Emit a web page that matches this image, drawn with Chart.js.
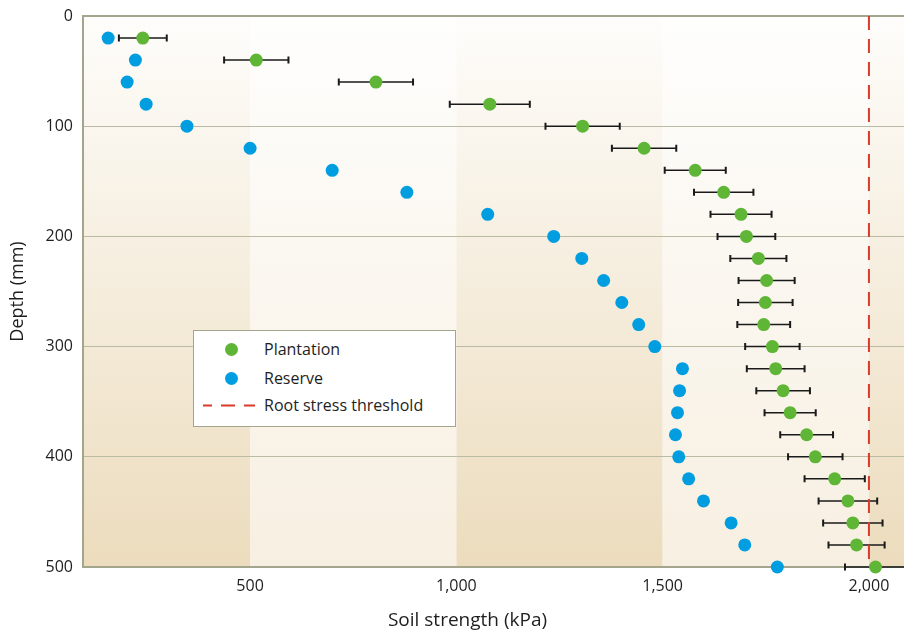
<!DOCTYPE html>
<html>
<head>
<meta charset="utf-8">
<script src="https://cdn.jsdelivr.net/npm/chart.js@4.4.1/dist/chart.umd.min.js"></script>
<style>
  html, body { margin: 0; padding: 0; background: #ffffff; }
  #wrap { position: relative; width: 904px; height: 631px; }
  #c { position: absolute; left: 0; top: 0; }
  #legend {
    position: absolute; left: 193px; top: 330px; width: 261px; height: 95px;
    background: #ffffff; border: 1px solid #a3a68c;
    font-family: "Open Sans", sans-serif; font-size: 16px; color: #1e1e1e;
  }
  .row { position: absolute; left: 0; height: 20px; line-height: 20px; }
  .dot { position: absolute; width: 13px; height: 13px; border-radius: 50%; top: 3.5px; left: 31px; }
  .lbl { position: absolute; left: 70px; top: 0; white-space: nowrap; }
  .dash { position: absolute; left: 9px; top: 9px; }
</style>
</head>
<body>
<div id="wrap">
  <canvas id="c" width="904" height="631"></canvas>
  <div id="legend">
    <div class="row" style="top:8px"><span class="dot" style="background:#5fb535"></span><span class="lbl">Plantation</span></div>
    <div class="row" style="top:37px"><span class="dot" style="background:#009ee0"></span><span class="lbl">Reserve</span></div>
    <div class="row" style="top:64px">
      <svg class="dash" width="52" height="3"><line x1="0" y1="1.5" x2="52" y2="1.5" stroke="#d93a2b" stroke-width="2" stroke-dasharray="9 9 14 9 14" /></svg>
      <span class="lbl">Root stress threshold</span></div>
  </div>
</div>
<script>
// ---- Data ----
const depths = [20, 40, 60, 80, 100, 120, 140, 160, 180, 200, 220, 240, 260, 280, 300, 320, 340, 360, 380, 400, 420, 440, 460, 480, 500];
const reserveStrength = [156, 222, 202, 248, 347, 500, 699, 880, 1076, 1236, 1304, 1357, 1401, 1442, 1481, 1548, 1541, 1536, 1531, 1539, 1563, 1599, 1666, 1699, 1778];
const plantationStrength = [240, 515, 805, 1081, 1306, 1455, 1579, 1648, 1690, 1703, 1732, 1752, 1749, 1745, 1766, 1774, 1792, 1809, 1849, 1870, 1917, 1949, 1961, 1970, 2016];
const plantationError = [58, 78, 90, 97, 90, 78, 74, 72, 74, 70, 68, 68, 66, 64, 66, 70, 65, 62, 64, 66, 73, 71, 72, 68, 74];
const thresholdValue = 2000;
const xTickValues = [500, 1000, 1500, 2000];
const yTickValues = [0, 100, 200, 300, 400, 500];
const bandEdges = [95, 500, 1000, 1500, 2000, 2085];
const xTitleText = 'Soil strength (kPa)';

const FONT = '"Open Sans", sans-serif';
const AXIS_COLOR = '#a3a68c';
const GRID_COLOR = '#b9bca2';

const bandPlugin = {
  id: 'bands',
  beforeDraw(chart) {
    const { ctx, chartArea } = chart;
    const xs = chart.scales.x;
    ctx.save();
    for (let i = 0; i < bandEdges.length - 1; i++) {
      const x0 = xs.getPixelForValue(bandEdges[i]);
      const x1 = xs.getPixelForValue(bandEdges[i + 1]);
      const g = ctx.createLinearGradient(0, chartArea.top, 0, chartArea.bottom);
      if (i % 2 === 0) {
        g.addColorStop(0, '#fefdfb');
        g.addColorStop(1, '#ecdcbd');
      } else {
        g.addColorStop(0, '#fefefd');
        g.addColorStop(1, '#f7efe1');
      }
      ctx.fillStyle = g;
      ctx.fillRect(x0, chartArea.top, x1 - x0, chartArea.bottom - chartArea.top);
    }
    ctx.restore();
  }
};

const errorBarPlugin = {
  id: 'errorBars',
  beforeDatasetsDraw(chart) {
    const { ctx } = chart;
    const xs = chart.scales.x, ys = chart.scales.y;
    ctx.save();
    ctx.strokeStyle = '#1a1a1a';
    for (let i = 0; i < depths.length; i++) {
      const y = ys.getPixelForValue(depths[i]);
      const xl = xs.getPixelForValue(plantationStrength[i] - plantationError[i]);
      const xr = xs.getPixelForValue(plantationStrength[i] + plantationError[i]);
      ctx.lineWidth = 1.5;
      ctx.beginPath();
      ctx.moveTo(xl, y); ctx.lineTo(xr, y);
      ctx.stroke();
      ctx.lineWidth = 2;
      ctx.beginPath();
      ctx.moveTo(xl, y - 3.5); ctx.lineTo(xl, y + 3.5);
      ctx.moveTo(xr, y - 3.5); ctx.lineTo(xr, y + 3.5);
      ctx.stroke();
    }
    ctx.restore();
  }
};

// x-axis title, placed slightly left of the axis centre as in the reference
const xTitlePlugin = {
  id: 'xTitle',
  afterDraw(chart) {
    const { ctx, chartArea } = chart;
    ctx.save();
    ctx.font = '19px ' + FONT;
    ctx.fillStyle = '#1e1e1e';
    ctx.textAlign = 'center';
    ctx.textBaseline = 'middle';
    ctx.fillText(xTitleText, (chartArea.left + chartArea.right) / 2 - 26, chartArea.bottom + 54);
    ctx.restore();
  }
};

new Chart(document.getElementById('c'), {
  type: 'scatter',
  data: {
    datasets: [
      {
        label: 'Plantation',
        data: depths.map((d, i) => ({ x: plantationStrength[i], y: d })),
        backgroundColor: '#5fb535',
        borderColor: '#5fb535',
        pointRadius: 6.5,
        borderWidth: 0,
        clip: false,
        order: 1
      },
      {
        label: 'Reserve',
        data: depths.map((d, i) => ({ x: reserveStrength[i], y: d })),
        backgroundColor: '#009ee0',
        borderColor: '#009ee0',
        pointRadius: 6.5,
        borderWidth: 0,
        clip: false,
        order: 2
      },
      {
        type: 'line',
        label: 'Root stress threshold',
        data: [{ x: thresholdValue, y: 0 }, { x: thresholdValue, y: 500 }],
        borderColor: '#d93a2b',
        borderWidth: 2,
        borderDash: [14, 9],
        borderDashOffset: 0,
        pointRadius: 0,
        fill: false,
        order: 3
      }
    ]
  },
  options: {
    responsive: false,
    animation: false,
    events: [],
    layout: { autoPadding: false, padding: { top: 16, right: 0, left: 0, bottom: 0 } },
    plugins: { legend: { display: false }, tooltip: { enabled: false } },
    scales: {
      x: {
        type: 'linear',
        min: bandEdges[0],
        max: bandEdges[bandEdges.length - 1],
        afterBuildTicks: (s) => { s.ticks = xTickValues.map(v => ({ value: v })); },
        afterFit: (s) => { s.height = 64; s.paddingLeft = 0; s.paddingRight = 0; },
        grid: { display: false, drawTicks: false },
        border: { display: true, color: AXIS_COLOR, width: 2 },
        ticks: {
          padding: 10,
          color: '#1e1e1e',
          font: { family: FONT, size: 16 },
          callback: (v) => Number(v).toLocaleString('en-US')
        },
        title: { display: false }
      },
      y: {
        type: 'linear',
        reverse: true,
        min: 0,
        max: 500,
        afterBuildTicks: (s) => { s.ticks = yTickValues.map(v => ({ value: v })); },
        afterFit: (s) => { s.width = 83; s.paddingTop = 0; s.paddingBottom = 0; },
        grid: {
          drawTicks: false,
          color: (c) => (c.tick && (c.tick.value === 0 || c.tick.value === 500)) ? AXIS_COLOR : GRID_COLOR,
          lineWidth: (c) => (c.tick && (c.tick.value === 0 || c.tick.value === 500)) ? 2 : 1
        },
        border: { display: true, color: AXIS_COLOR, width: 2 },
        ticks: {
          padding: 10,
          color: '#1e1e1e',
          font: { family: FONT, size: 16 }
        },
        title: {
          display: true,
          text: 'Depth (mm)',
          color: '#1e1e1e',
          font: { family: FONT, size: 18 },
          padding: { top: 7, bottom: 0 }
        }
      }
    }
  },
  plugins: [bandPlugin, errorBarPlugin, xTitlePlugin]
});
</script>
</body>
</html>
